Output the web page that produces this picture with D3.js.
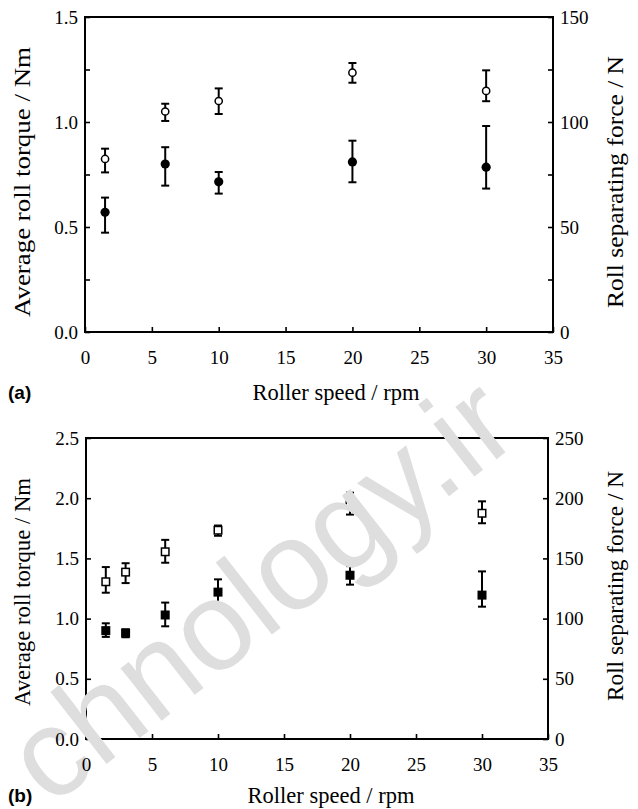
<!DOCTYPE html>
<html><head><meta charset="utf-8">
<script src="https://cdn.jsdelivr.net/npm/d3@7"></script>
<style>body{margin:0;background:#fff}svg{display:block}</style>
</head><body>
<svg id="c" width="638" height="809"></svg>
<script>
// ---- data ----
const xTicks = [0, 5, 10, 15, 20, 25, 30, 35];

const speedA = [1.5, 6, 10, 20, 30];
const torqueA = [0.57, 0.80, 0.715, 0.81, 0.785];
const torqueALow = [0.473, 0.697, 0.659, 0.713, 0.683];
const torqueAHigh = [0.640, 0.880, 0.762, 0.911, 0.981];
const forceA = [82.4, 105.0, 110.0, 123.5, 114.8];
const forceALow = [76.0, 100.5, 103.8, 118.7, 109.9];
const forceAHigh = [87.3, 108.7, 116.0, 128.1, 124.6];
const leftTicksA = [0, 0.5, 1.0, 1.5];
const leftMinorA = [0.25, 0.75, 1.25];
const rightTicksA = [0, 50, 100, 150];
const rightMinorA = [25, 75, 125];

const speedB = [1.5, 3, 6, 10, 20, 30];
const torqueB = [0.90, 0.88, 1.03, 1.22, 1.36, 1.195];
const torqueBLow = [0.848, 0.845, 0.936, 1.116, 1.282, 1.099];
const torqueBHigh = [0.961, 0.911, 1.133, 1.326, 1.436, 1.392];
const forceB = [130.6, 138.6, 155.5, 173.4, 196.1, 187.5];
const forceBLow = [121.5, 129.5, 146.4, 168.8, 186.4, 179.2];
const forceBHigh = [142.8, 146.0, 165.4, 177.3, 204.6, 197.4];
const leftTicksB = [0, 0.5, 1.0, 1.5, 2.0, 2.5];
const rightTicksB = [0, 50, 100, 150, 200, 250];

const svg = d3.select("#c");
const serif = "Liberation Serif, Times New Roman, DejaVu Serif, serif";
const lower = svg.append("g");
const mark = svg.append("g");
const upper = svg.append("g");

function panel(o) {
  const g = lower.append("g");
  const x = d3.scaleLinear().domain([0, 35]).range([o.left, o.right]);
  const yL = d3.scaleLinear().domain([0, o.lmax]).range([o.bottom, o.top]);
  const yR = d3.scaleLinear().domain([0, o.rmax]).range([o.bottom, o.top]);
  const tl = 5;
  const styleLines = a => { a.select(".domain").remove(); a.selectAll("line").attr("stroke", "#000").attr("stroke-width", 1.6); };

  g.append("g").attr("transform", `translate(0,${o.bottom})`)
    .call(d3.axisBottom(x).tickValues(xTicks).tickSizeInner(-tl).tickSizeOuter(0).tickFormat("")).call(styleLines);
  g.append("g").attr("transform", `translate(${o.left},0)`)
    .call(d3.axisLeft(yL).tickValues(o.lt.concat(o.lminor || [])).tickSizeInner(-tl).tickSizeOuter(0).tickFormat("")).call(styleLines);
  g.append("g").attr("transform", `translate(${o.right},0)`)
    .call(d3.axisRight(yR).tickValues(o.rt.concat(o.rminor || [])).tickSizeInner(-tl).tickSizeOuter(0).tickFormat("")).call(styleLines);

  const styleText = a => {
    a.select(".domain").remove(); a.selectAll("line").remove();
    a.selectAll("text").attr("font-family", serif).attr("font-size", 19).attr("fill", "#000");
  };
  upper.append("g").attr("transform", `translate(0,${o.bottom})`)
    .call(d3.axisBottom(x).tickValues(xTicks).tickSizeInner(0).tickSizeOuter(0).tickPadding(19).tickFormat(d3.format("d"))).call(styleText);
  upper.append("g").attr("transform", `translate(${o.left},0)`)
    .call(d3.axisLeft(yL).tickValues(o.lt).tickSizeInner(0).tickSizeOuter(0).tickPadding(7).tickFormat(d3.format(".1f"))).call(styleText);
  upper.append("g").attr("transform", `translate(${o.right},0)`)
    .call(d3.axisRight(yR).tickValues(o.rt).tickSizeInner(0).tickSizeOuter(0).tickPadding(7).tickFormat(d3.format("d"))).call(styleText);

  g.append("rect").attr("x", o.left).attr("y", o.top)
    .attr("width", o.right - o.left).attr("height", o.bottom - o.top)
    .attr("fill", "none").attr("stroke", "#000").attr("stroke-width", 2);

  function series(xs, ys, lo, hi, yS, shape, filled) {
    const cap = 4;
    const eg = g.append("g").attr("stroke", "#000").attr("stroke-width", 2).attr("fill", "none");
    xs.forEach((xv, i) => {
      const cx = x(xv);
      eg.append("line").attr("x1", cx).attr("x2", cx).attr("y1", yS(lo[i])).attr("y2", yS(hi[i]));
      eg.append("line").attr("x1", cx - cap).attr("x2", cx + cap).attr("y1", yS(lo[i])).attr("y2", yS(lo[i]));
      eg.append("line").attr("x1", cx - cap).attr("x2", cx + cap).attr("y1", yS(hi[i])).attr("y2", yS(hi[i]));
    });
    const mg = g.append("g");
    xs.forEach((xv, i) => {
      const cx = x(xv), cy = yS(ys[i]);
      if (shape === "circle") {
        mg.append("circle").attr("cx", cx).attr("cy", cy).attr("r", filled ? 4.6 : 3.6)
          .attr("fill", filled ? "#000" : "#fff").attr("stroke", "#000").attr("stroke-width", filled ? 0 : 1.5);
      } else {
        const s = filled ? 9 : 7.5;
        mg.append("rect").attr("x", cx - s / 2).attr("y", cy - s / 2).attr("width", s).attr("height", s)
          .attr("fill", filled ? "#000" : "#fff").attr("stroke", "#000").attr("stroke-width", filled ? 0 : 1.5);
      }
    });
  }
  series(o.sp, o.force, o.forceLo, o.forceHi, yR, o.shape, false);
  series(o.sp, o.torque, o.torqueLo, o.torqueHi, yL, o.shape, true);

  upper.append("text").attr("x", o.xTitleX).attr("y", o.xTitleY)
    .attr("text-anchor", "middle").attr("font-family", serif).attr("font-size", 22.5).text("Roller speed / rpm");
  upper.append("text").attr("transform", `translate(30,${o.lMid}) rotate(-90)`)
    .attr("text-anchor", "middle").attr("font-family", serif).attr("font-size", 23)
    .attr("textLength", o.lLen).attr("lengthAdjust", "spacingAndGlyphs").text("Average roll torque / Nm");
  upper.append("text").attr("transform", `translate(623,${o.rMid}) rotate(-90)`)
    .attr("text-anchor", "middle").attr("font-family", serif).attr("font-size", 23)
    .attr("textLength", o.rLen).attr("lengthAdjust", "spacingAndGlyphs").text("Roll separating force / N");
  upper.append("text").attr("x", 8).attr("y", o.xTitleY - 1)
    .attr("font-family", "Liberation Sans, Arial, sans-serif").attr("font-weight", "bold").attr("font-size", 19).text(o.tag);
}

panel({left: 85, right: 553, top: 17, bottom: 332, lmax: 1.5, rmax: 150,
  lt: leftTicksA, lminor: leftMinorA, rt: rightTicksA, rminor: rightMinorA,
  xTitleX: 336, xTitleY: 400, tag: "(a)", shape: "circle", lMid: 182, lLen: 270, rMid: 182, rLen: 252,
  sp: speedA, torque: torqueA, torqueLo: torqueALow, torqueHi: torqueAHigh,
  force: forceA, forceLo: forceALow, forceHi: forceAHigh});
panel({left: 86, right: 548, top: 438, bottom: 739, lmax: 2.5, rmax: 250,
  lt: leftTicksB, rt: rightTicksB,
  xTitleX: 331, xTitleY: 803, tag: "(b)", shape: "square", lMid: 592, lLen: 228, rMid: 586, rLen: 230,
  sp: speedB, torque: torqueB, torqueLo: torqueBLow, torqueHi: torqueBHigh,
  force: forceB, forceLo: forceBLow, forceHi: forceBHigh});

// watermark over the plot lines and marks
mark.append("text").attr("transform", "translate(50,808) rotate(-38)")
  .attr("font-family", "Liberation Sans, Arial, sans-serif").attr("font-size", 126)
  .attr("fill", "#dedede").text("chnology.ir");
</script>
</body></html>
